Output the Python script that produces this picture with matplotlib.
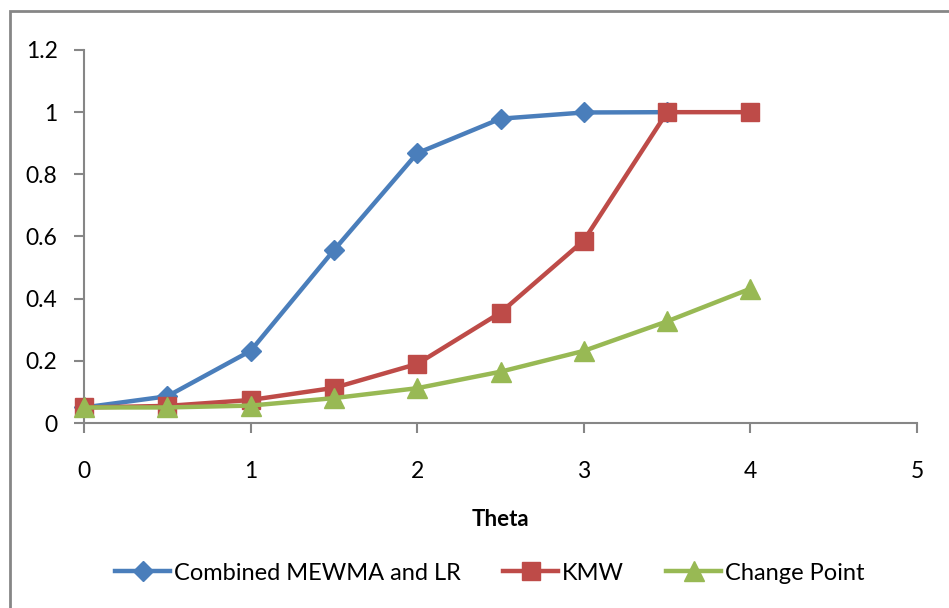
import matplotlib
matplotlib.use("Agg")
import matplotlib.pyplot as plt
from matplotlib.patches import Rectangle

theta_blue = [0, 0.5, 1, 1.5, 2, 2.5, 3, 3.5]
combined = [0.05, 0.086, 0.232, 0.556, 0.868, 0.979, 0.999, 1.0]
theta = [0, 0.5, 1, 1.5, 2, 2.5, 3, 3.5, 4]
kmw = [0.05, 0.055, 0.074, 0.113, 0.19, 0.355, 0.587, 1.0, 1.0]
change_point = [0.05, 0.05, 0.056, 0.08, 0.112, 0.165, 0.232, 0.327, 0.432]

plt.rcParams['font.family'] = ['Lato', 'DejaVu Sans']

W, H = 949, 608
fig = plt.figure(figsize=(W/100, H/100), dpi=100)
ax = fig.add_axes([84/W, 1-423/H, (917-84)/W, (423-50)/H])

ax.plot(theta_blue, combined, color='#4A7EBB', lw=3.2, marker='D', ms=10,
        label='Combined MEWMA and LR', solid_joinstyle='round')
ax.plot(theta, kmw, color='#BE4B48', lw=3.2, marker='s', ms=13,
        label='KMW', solid_joinstyle='round')
ax.plot(theta, change_point, color='#98B954', lw=3.2, marker='^', ms=14,
        label='Change Point', solid_joinstyle='round')

ax.set_xlim(0, 5)
ax.set_ylim(0, 1.2)
ax.set_xticks([0, 1, 2, 3, 4, 5])
ax.set_yticks([0, 0.2, 0.4, 0.6, 0.8, 1.0, 1.2])
ax.set_yticklabels(['0', '0.2', '0.4', '0.6', '0.8', '1', '1.2'])
for s in ['top', 'right']:
    ax.spines[s].set_visible(False)
for s in ['left', 'bottom']:
    ax.spines[s].set_color('#868686')
    ax.spines[s].set_linewidth(1.5)
    ax.spines[s].set_zorder(0)
ax.tick_params(axis='both', colors='#868686', labelcolor='black', labelsize=16.5,
               length=7, width=1.5, direction='out')
ax.tick_params(axis='x', pad=20)
ax.tick_params(axis='y', pad=12)
for l in ax.get_lines():
    l.set_clip_on(False)

ax.set_xlabel('Theta', fontsize=16, fontweight='bold', labelpad=20)

leg = fig.legend(loc='center', bbox_to_anchor=(0.516, 1-573/H), ncol=3, frameon=False,
                 fontsize=17, handlelength=2.33, columnspacing=1.8, handletextpad=0.15)

fig.patches.append(Rectangle((10/W, -0.05), 1.1, 1-11/H + 0.05, transform=fig.transFigure,
                             fill=False, edgecolor='#868686', lw=2))

fig.savefig('out.png', dpi=100)
